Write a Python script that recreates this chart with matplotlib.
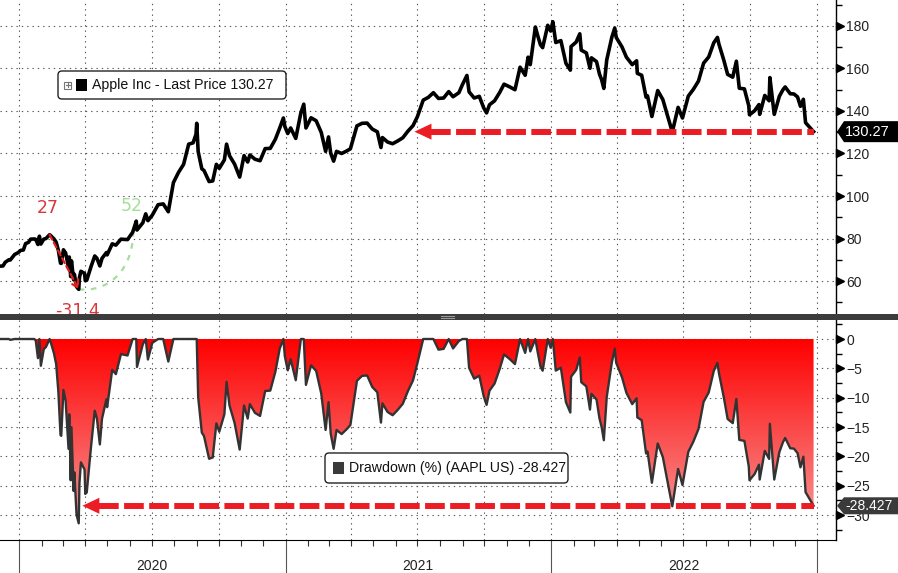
import numpy as np
import pandas as pd
import matplotlib
matplotlib.use("Agg")
import matplotlib.pyplot as plt
import matplotlib.dates as mdates
import matplotlib.transforms as mtrans
from matplotlib.patches import Rectangle, FancyBboxPatch, PathPatch, Polygon
from matplotlib.path import Path

# ---------------- data ----------------
dates = [
    "2019-12-06", "2019-12-10", "2019-12-13", "2019-12-18", "2019-12-20", "2019-12-26", "2019-12-31",
    "2020-01-03", "2020-01-07", "2020-01-10", "2020-01-14", "2020-01-17", "2020-01-22", "2020-01-24",
    "2020-01-27", "2020-01-29", "2020-01-31", "2020-02-04", "2020-02-07", "2020-02-12", "2020-02-14",
    "2020-02-18", "2020-02-21", "2020-02-24", "2020-02-27", "2020-02-28", "2020-03-02", "2020-03-05",
    "2020-03-09", "2020-03-10", "2020-03-12", "2020-03-13", "2020-03-16", "2020-03-17", "2020-03-20",
    "2020-03-23", "2020-03-24", "2020-03-26", "2020-03-31", "2020-04-01", "2020-04-03", "2020-04-09",
    "2020-04-14", "2020-04-17", "2020-04-21", "2020-04-24", "2020-04-30", "2020-05-01", "2020-05-08",
    "2020-05-13", "2020-05-20", "2020-05-29", "2020-06-05", "2020-06-10", "2020-06-11", "2020-06-19",
    "2020-06-23", "2020-06-26", "2020-07-02", "2020-07-10", "2020-07-17", "2020-07-24", "2020-07-31",
    "2020-08-07", "2020-08-14", "2020-08-21", "2020-08-27", "2020-08-31", "2020-09-01", "2020-09-03",
    "2020-09-08", "2020-09-11", "2020-09-18", "2020-09-23", "2020-09-28", "2020-10-02", "2020-10-09",
    "2020-10-12", "2020-10-16", "2020-10-23", "2020-10-30", "2020-11-05", "2020-11-10", "2020-11-13",
    "2020-11-20", "2020-11-27", "2020-12-04", "2020-12-11", "2020-12-18", "2020-12-24", "2020-12-29",
    "2020-12-31", "2021-01-04", "2021-01-08", "2021-01-15", "2021-01-22", "2021-01-26", "2021-01-29",
    "2021-02-05", "2021-02-12", "2021-02-19", "2021-02-25", "2021-03-01", "2021-03-04", "2021-03-08",
    "2021-03-12", "2021-03-19", "2021-03-26", "2021-03-31", "2021-04-09", "2021-04-16", "2021-04-23",
    "2021-04-30", "2021-05-07", "2021-05-12", "2021-05-14", "2021-05-21", "2021-05-28", "2021-06-04",
    "2021-06-11", "2021-06-18", "2021-06-25", "2021-07-01", "2021-07-09", "2021-07-16", "2021-07-23",
    "2021-07-30", "2021-08-06", "2021-08-13", "2021-08-19", "2021-08-27", "2021-09-01", "2021-09-07",
    "2021-09-10", "2021-09-17", "2021-09-24", "2021-09-30", "2021-10-04", "2021-10-08", "2021-10-15",
    "2021-10-22", "2021-10-28", "2021-11-05", "2021-11-12", "2021-11-19", "2021-11-26", "2021-11-30",
    "2021-12-03", "2021-12-10", "2021-12-13", "2021-12-17", "2021-12-20", "2021-12-27", "2021-12-31",
    "2022-01-03", "2022-01-07", "2022-01-14", "2022-01-21", "2022-01-27", "2022-01-28", "2022-02-04",
    "2022-02-09", "2022-02-11", "2022-02-18", "2022-02-23", "2022-02-25", "2022-03-04", "2022-03-08",
    "2022-03-11", "2022-03-14", "2022-03-18", "2022-03-25", "2022-03-29", "2022-03-31", "2022-04-08",
    "2022-04-14", "2022-04-22", "2022-04-28", "2022-04-29", "2022-05-05", "2022-05-11", "2022-05-13",
    "2022-05-19", "2022-05-27", "2022-06-03", "2022-06-10", "2022-06-16", "2022-06-24", "2022-06-30",
    "2022-07-08", "2022-07-15", "2022-07-22", "2022-07-29", "2022-08-05", "2022-08-12", "2022-08-17",
    "2022-08-19", "2022-08-26", "2022-08-31", "2022-09-07", "2022-09-12", "2022-09-16", "2022-09-23",
    "2022-09-29", "2022-09-30", "2022-10-07", "2022-10-13", "2022-10-14", "2022-10-21", "2022-10-27",
    "2022-10-28", "2022-11-03", "2022-11-10", "2022-11-15", "2022-11-18", "2022-11-25", "2022-11-30",
    "2022-12-05", "2022-12-09", "2022-12-13", "2022-12-16", "2022-12-22", "2022-12-27",
]
prices = [
    67.0, 67.1, 68.8, 70.0, 69.9, 72.5, 73.4,
    74.4, 74.6, 77.6, 78.2, 79.7, 79.8, 79.6,
    77.2, 81.1, 77.4, 79.7, 80.0, 81.8, 81.2,
    79.8, 78.3, 74.5, 68.4, 68.3, 74.7, 73.2,
    66.5, 71.3, 62.1, 69.5, 60.6, 63.2, 57.3,
    56.1, 61.7, 64.6, 63.6, 60.2, 60.4, 66.9,
    71.8, 70.7, 67.1, 70.7, 73.4, 72.3, 77.5,
    76.9, 79.7, 79.5, 82.9, 88.2, 84.0, 87.4,
    91.6, 88.4, 91.0, 95.9, 96.3, 92.6, 106.3,
    111.1, 114.9, 124.4, 125.0, 129.0, 134.2, 120.9,
    112.8, 112.0, 106.8, 107.1, 114.9, 113.0, 117.0,
    124.4, 119.0, 115.0, 108.9, 119.0, 116.0, 119.3,
    117.3, 116.6, 122.3, 122.4, 126.7, 132.0, 136.7,
    132.7, 129.4, 132.0, 127.1, 139.1, 143.2, 132.0,
    136.8, 135.4, 129.9, 121.0, 127.8, 120.1, 116.4,
    121.0, 120.0, 121.2, 122.2, 133.0, 134.2, 134.3,
    131.5, 130.2, 122.8, 127.5, 125.4, 124.6, 125.9,
    127.4, 130.5, 133.1, 137.3, 145.1, 146.4, 148.6,
    145.9, 146.1, 149.1, 146.7, 148.6, 152.5, 156.7,
    149.0, 146.1, 146.9, 141.5, 139.1, 142.9, 144.8,
    148.7, 152.6, 151.3, 150.0, 160.6, 156.8, 165.3,
    161.8, 179.5, 175.7, 171.1, 169.8, 180.3, 177.6,
    182.0, 172.2, 173.1, 162.4, 159.2, 170.3, 172.4,
    176.3, 168.6, 167.3, 160.1, 165.0, 163.2, 157.4,
    154.7, 150.6, 164.0, 174.7, 179.0, 174.6, 170.1,
    165.3, 161.8, 163.6, 157.7, 156.8, 146.5, 147.1,
    137.4, 149.6, 145.4, 137.1, 130.1, 141.7, 136.7,
    147.0, 150.2, 154.1, 162.5, 165.4, 172.1, 174.6,
    171.5, 163.6, 157.2, 155.9, 163.4, 150.7, 150.4,
    142.5, 138.2, 140.1, 143.0, 138.4, 147.3, 144.8,
    155.7, 138.4, 146.9, 150.0, 151.3, 148.1, 148.0,
    146.6, 142.2, 145.5, 134.5, 132.2, 130.27,
]
last_price = 130.27
last_drawdown = -28.427
price_ticks = [60, 80, 100, 120, 140, 160, 180]
dd_ticks = [0, -5, -10, -15, -20, -25, -30]
year_labels = ["2020", "2021", "2022"]
fall_days_label = "27"
recovery_days_label = "52"
max_dd_label = "-31.4"
legend_price = "Apple Inc - Last Price 130.27"
legend_dd = "Drawdown (%) (AAPL US) -28.427"

# ---------------- figure ----------------
W, H = 898, 573
plt.rcParams['font.family'] = ['Liberation Sans', 'DejaVu Sans']
fig = plt.figure(figsize=(W / 100, H / 100), dpi=100)
fig.patch.set_facecolor('white')
PIX = mtrans.IdentityTransform()


def fy(py):
    return 1 - py / H


ax1 = fig.add_axes([0, fy(314), 836 / W, 314 / H])
ax2 = fig.add_axes([0, fy(540), 836 / W, (540 - 320) / H])

x = mdates.date2num(pd.to_datetime(dates))
p = np.array(prices)
dd = (p / np.maximum.accumulate(p) - 1) * 100

base = mdates.date2num(pd.Timestamp("2020-01-01"))
xlim = (base - 26.1, base + 1121.8)

RED = '#ec1c24'
GRID = dict(color='#555555', lw=0.8, ls=(0, (1.2, 3.6)))

# ---- top panel: price ----
ax1.plot(x, p, color='black', lw=2.6, solid_joinstyle='round', zorder=5)
ax1.set_xlim(*xlim)
ax1.set_ylim(44.5, 192.2)

# ---- bottom panel: drawdown with gradient fill ----
grad = np.linspace(0, 1, 256)[:, None, None]
top_c = np.array([1.0, 0.0, 0.0])
bot_c = np.array([0.97, 0.60, 0.60])
img = top_c + (bot_c - top_c) * grad
im = ax2.imshow(img, extent=[x.min(), x.max(), -32.0, 0], origin='upper',
                aspect='auto', zorder=2, interpolation='bilinear')
poly = ax2.fill_between(x, dd, 0, color='none', lw=0)
im.set_clip_path(poly.get_paths()[0], transform=ax2.transData)
ax2.plot(x, dd, color='#333333', lw=1.7, zorder=5)
ax2.set_xlim(*xlim)
ax2.set_ylim(-34.26, 3.24)

# ---- grids, spines, ticks ----
quarters = mdates.date2num(pd.date_range("2020-01-01", "2023-01-01", freq="QS"))
for ax, ticks in ((ax1, price_ticks), (ax2, dd_ticks)):
    for q in quarters:
        ax.axvline(q, zorder=1, **GRID)
    for t in ticks:
        ax.axhline(t, zorder=1, **GRID)
    for s in ('left', 'top'):
        ax.spines[s].set_visible(False)
    ax.spines['right'].set_color('black')
    ax.spines['right'].set_linewidth(1.0)
    ax.yaxis.tick_right()
    ax.set_yticks(ticks)
    step = ticks[1] - ticks[0]
    ax.set_yticks([t + step / 2 for t in ticks] + [ticks[0] - step / 2], minor=True)
    ax.tick_params(axis='y', which='major', length=0, pad=7.5, labelsize=10, labelcolor='#222222')
    ax.tick_params(axis='y', which='minor', length=4, width=1, color='black', direction='out')
    tr = mtrans.offset_copy(ax.get_yaxis_transform(), fig=fig, x=4, y=0, units='dots')
    ax.plot([1] * len(ticks), ticks, ls='none', marker='>', ms=5.5, color='black',
            transform=tr, clip_on=False, zorder=10)

ax1.spines['bottom'].set_visible(False)
ax1.tick_params(axis='x', which='both', bottom=False, labelbottom=False)
ax1.set_ylim(44.5, 192.2)
ax2.set_ylim(-34.26, 3.24)

ax2.spines['bottom'].set_color('black')
ax2.xaxis.set_major_locator(mdates.YearLocator())
ax2.xaxis.set_minor_locator(mdates.MonthLocator())
ax2.tick_params(axis='x', which='major', length=24, width=0.8, color='#555555', labelbottom=False)
ax2.tick_params(axis='x', which='minor', length=4, width=0.8, color='#333333')

ytr = mtrans.blended_transform_factory(ax2.transData, fig.transFigure)
for yl in year_labels:
    ax2.text(mdates.date2num(pd.Timestamp(f"{yl}-07-02")), fy(566), yl, transform=ytr,
             ha='center', va='center', fontsize=10, color='#222222', clip_on=False)


# ---- right-hand value labels ----
def value_box(ax, yval, label, color, hh, fs):
    yc = ax.transData.transform((x[-1], yval))[1]
    xs = ax.transAxes.transform((1, 0))[0]
    fig.add_artist(Polygon([(xs + 1, yc), (xs + 8, yc + hh), (W + 2, yc + hh), (W + 2, yc - hh),
                            (xs + 8, yc - hh)], closed=True, transform=PIX, fc=color, ec='none',
                           zorder=45))
    fig.text(xs + 9, yc, label, transform=PIX, ha='left', va='center', fontsize=fs,
             color='white', zorder=46)


value_box(ax1, last_price, f"{last_price:.2f}", 'black', 10.5, 10.5)
value_box(ax2, last_drawdown, f"{last_drawdown:.3f}", '#3a3a3a', 8.5, 10)


# ---- red dashed arrows at the latest level ----
def level_arrow(ax, tip_date, yval):
    tip = ax.transData.transform((mdates.date2num(pd.Timestamp(tip_date)), yval))
    basex = tip[0] + 17
    ax.add_patch(Polygon([(tip[0], tip[1]), (basex, tip[1] + 8), (basex, tip[1] - 8)],
                         closed=True, transform=PIX, fc=RED, ec='none', zorder=8, clip_on=False))
    bx = ax.transData.inverted().transform((basex, tip[1]))[0]
    ax.plot([bx, x[-1]], [yval, yval], color=RED, lw=4.3, ls=(0, (3.3, 0.9)),
            solid_capstyle='butt', dash_capstyle='butt', zorder=8)


level_arrow(ax1, "2021-06-27", last_price)
level_arrow(ax2, "2020-03-28", last_drawdown)

# ---- 2020 crash annotation ----
i_peak = 19
i_trough = int(np.argmin(p[:60]))
i_rec = 52
xp, yp = x[i_peak], p[i_peak]
xt, yt = x[i_trough], p[i_trough]
xr = x[i_rec]
ax1.annotate('', xy=(xt, yt), xytext=(xp, yp),
             arrowprops=dict(arrowstyle='->,head_length=0.5,head_width=0.3', color='#e02020',
                             lw=1.6, ls=(0, (2.5, 1.5)), shrinkA=0, shrinkB=0), zorder=6)
arc = Path([(xt, yt), (xt + 0.55 * (xr - xt), yt - 1.5), (xr + 2, yt + 0.35 * (yp - yt)), (xr + 1, yp + 3)],
           [Path.MOVETO, Path.CURVE4, Path.CURVE4, Path.CURVE4])
ax1.add_patch(PathPatch(arc, fc='none', ec='#a6dd9c', lw=1.6, ls=(0, (2.5, 3)), zorder=4))
ax1.text(xp - 2, yp + 12.5, fall_days_label, color='#d8383c', fontsize=12.5, ha='center', va='center',
         family=['DejaVu Sans'])
ax1.text(xr - 1, yp + 13.3, recovery_days_label, color='#a6dd9c', fontsize=12.5, ha='center', va='center',
         family=['DejaVu Sans'])
ax1.text(xt - 1, yt - 10.2, max_dd_label, color='#d8383c', fontsize=12.5, ha='center', va='center',
         clip_on=True, family=['DejaVu Sans'])


# ---- legends ----
def legend_box(x0, y0, x1, y1, sq_x, sq_color, label, plus=False):
    fig.add_artist(FancyBboxPatch((x0, H - y1), x1 - x0, y1 - y0,
                                  boxstyle='round,pad=0,rounding_size=4', transform=PIX,
                                  fc='white', ec='#222222', lw=1.0, zorder=30))
    yc = (y0 + y1) / 2
    if plus:
        fig.add_artist(Rectangle((sq_x - 12, H - yc - 3.5), 7, 7, transform=PIX,
                                 fc='white', ec='#777777', lw=0.8, zorder=31))
        fig.add_artist(plt.Line2D([sq_x - 10.5, sq_x - 6.5], [H - yc, H - yc], transform=PIX,
                                  color='#777777', lw=0.8, zorder=32))
        fig.add_artist(plt.Line2D([sq_x - 8.5, sq_x - 8.5], [H - yc - 2, H - yc + 2], transform=PIX,
                                  color='#777777', lw=0.8, zorder=32))
    fig.add_artist(Rectangle((sq_x, H - yc - 6), 11, 12, transform=PIX, fc=sq_color, ec='none', zorder=31))
    fig.text(sq_x + 16, H - yc, label, transform=PIX, ha='left', va='center', fontsize=10.2,
             color='#111111', zorder=32)


legend_box(58, 71, 286, 99, 76, 'black', legend_price, plus=True)
legend_box(325, 453, 568, 483, 333, '#3a3a3a', legend_dd)

# ---- panel divider ----
fig.add_artist(Rectangle((0, H - 320), W, 6, transform=PIX, fc='#3c3c3c', ec='none', zorder=40))
for yy in (316, 318):
    fig.add_artist(plt.Line2D([441, 454], [H - yy, H - yy], transform=PIX, color='#9a9a9a', lw=0.8, zorder=41))

fig.savefig("out.png", dpi=100, facecolor='white')
